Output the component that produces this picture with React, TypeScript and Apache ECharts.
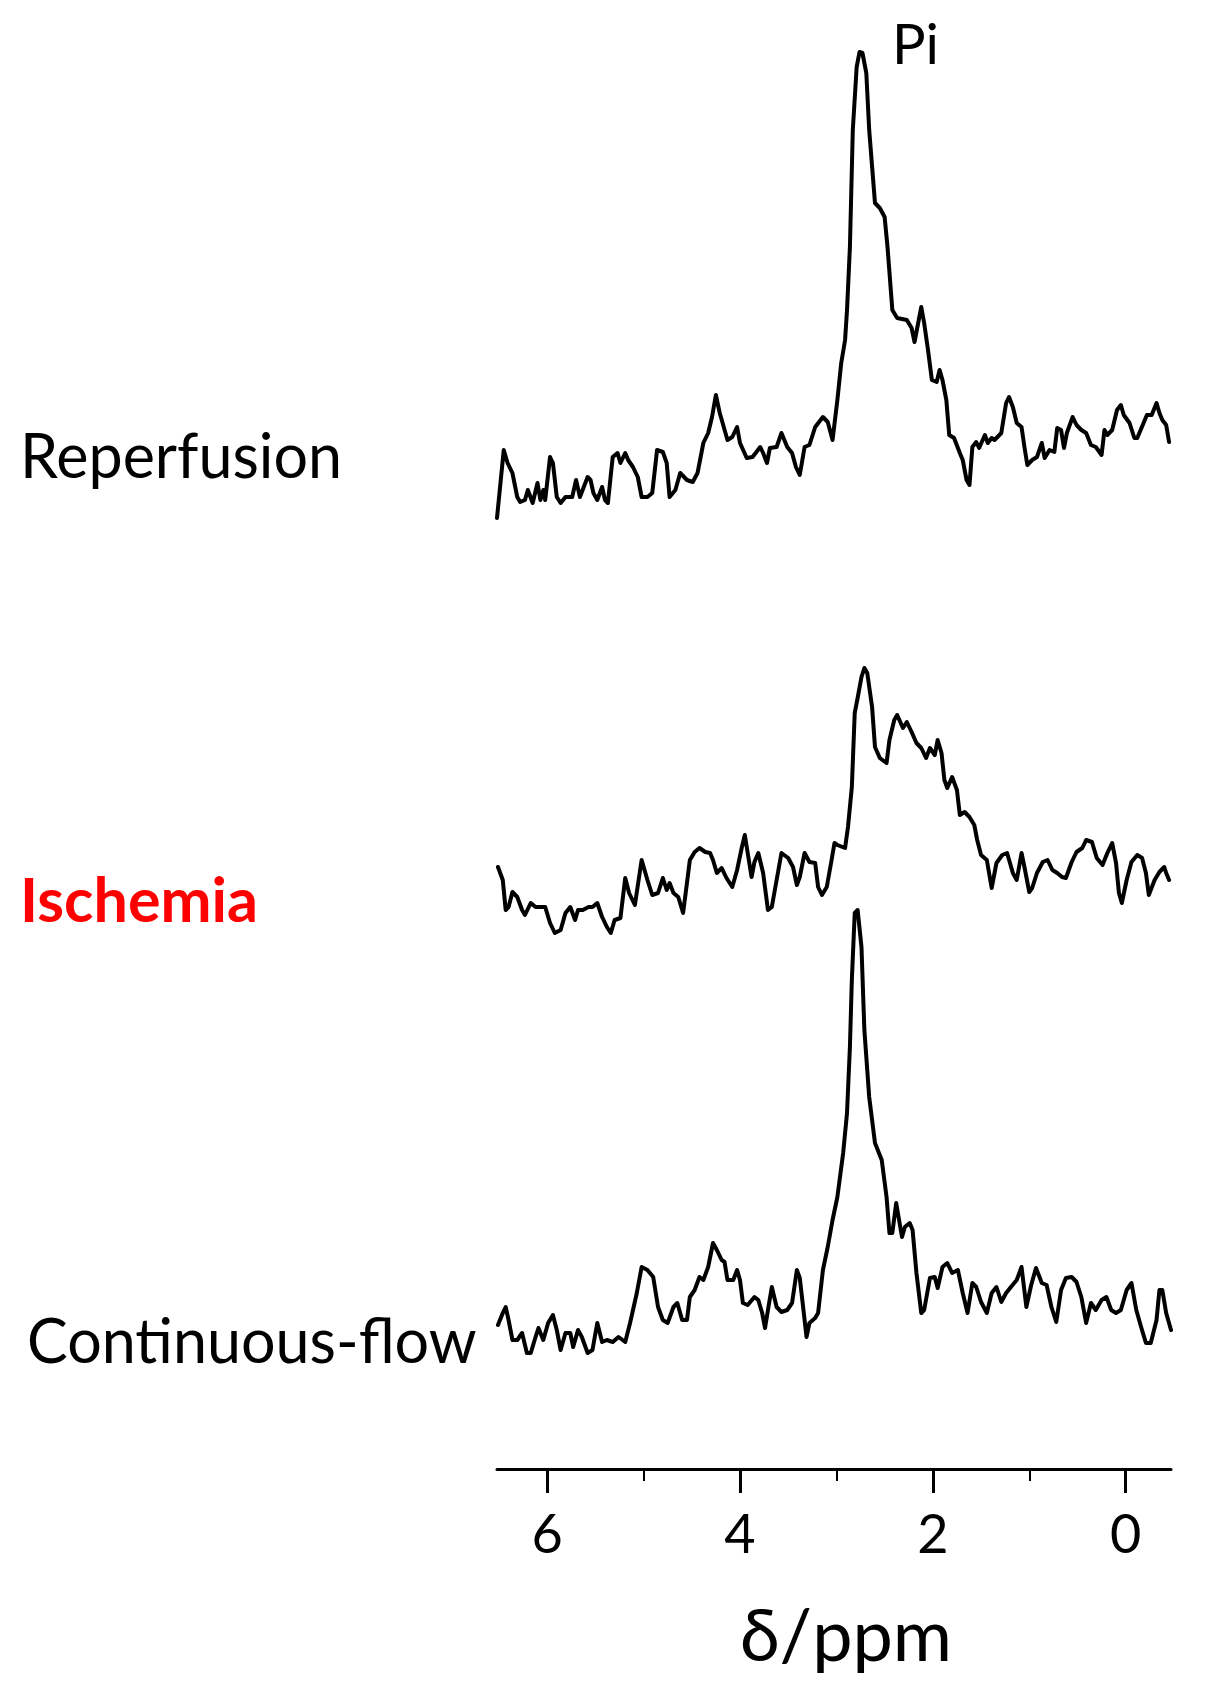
import React, { useEffect, useRef } from "react";
import * as echarts from "echarts";

// chemical shift (ppm) and intensity (a.u., relative to each trace's own baseline)
const reperfusion: [number, number][] = [
  [6.52,2],[6.45,70],[6.41,57],[6.36,47],[6.31,23],[6.28,18],[6.23,20],[6.20,30],[6.15,17],[6.10,37],[6.07,20],[6.04,30],[6.02,20],[5.97,63],[5.94,57],[5.90,23],[5.86,17],[5.81,23],[5.74,23],[5.70,40],[5.66,23],[5.58,43],[5.55,40],[5.52,27],[5.48,20],[5.43,33],[5.40,20],[5.37,17],[5.32,63],[5.27,67],[5.24,57],[5.19,67],[5.16,60],[5.11,53],[5.06,43],[5.02,23],[4.96,23],[4.91,27],[4.86,70],[4.80,68],[4.76,57],[4.73,23],[4.67,30],[4.62,47],[4.55,40],[4.49,38],[4.44,47],[4.38,77],[4.33,87],[4.29,103],[4.25,125],[4.21,107],[4.18,97],[4.13,80],[4.08,83],[4.03,93],[4.00,77],[3.93,62],[3.87,63],[3.79,73],[3.76,67],[3.72,57],[3.69,72],[3.62,73],[3.57,87],[3.51,73],[3.46,67],[3.42,53],[3.38,45],[3.33,73],[3.28,75],[3.22,93],[3.14,103],[3.09,98],[3.04,80],[2.99,120],[2.95,157],[2.91,180],[2.89,210],[2.86,273],[2.83,390],[2.79,453],[2.76,468],[2.73,467],[2.69,447],[2.66,390],[2.60,317],[2.55,312],[2.50,303],[2.47,273],[2.42,210],[2.37,202],[2.27,200],[2.22,192],[2.19,178],[2.12,213],[2.09,197],[2.05,170],[2.01,140],[1.96,138],[1.93,150],[1.90,140],[1.86,120],[1.83,85],[1.78,82],[1.72,67],[1.69,60],[1.65,40],[1.62,35],[1.59,73],[1.55,78],[1.52,72],[1.46,85],[1.43,77],[1.39,82],[1.36,80],[1.29,87],[1.24,117],[1.21,123],[1.17,113],[1.13,97],[1.08,93],[1.05,73],[1.02,55],[0.97,60],[0.92,63],[0.87,77],[0.84,62],[0.79,70],[0.74,68],[0.71,92],[0.67,90],[0.64,72],[0.61,87],[0.55,103],[0.51,95],[0.46,90],[0.41,87],[0.36,75],[0.31,73],[0.25,65],[0.22,90],[0.19,85],[0.14,90],[0.09,110],[0.05,115],[0.02,105],[-0.04,97],[-0.09,82],[-0.12,82],[-0.19,98],[-0.22,105],[-0.27,105],[-0.32,117],[-0.35,107],[-0.38,100],[-0.42,95],[-0.45,78]
];

const ischemia: [number, number][] = [
  [6.51,68],[6.46,55],[6.43,25],[6.40,28],[6.36,43],[6.31,38],[6.26,25],[6.23,20],[6.17,32],[6.12,28],[6.07,28],[6.02,28],[5.97,12],[5.92,2],[5.86,5],[5.81,22],[5.76,28],[5.71,15],[5.68,25],[5.63,25],[5.57,28],[5.53,28],[5.48,32],[5.43,18],[5.38,8],[5.34,2],[5.30,15],[5.24,17],[5.19,57],[5.15,42],[5.09,30],[5.02,75],[4.96,55],[4.91,40],[4.85,42],[4.80,57],[4.76,45],[4.73,52],[4.69,42],[4.64,38],[4.59,22],[4.55,52],[4.52,75],[4.47,83],[4.42,87],[4.36,83],[4.31,82],[4.28,75],[4.24,62],[4.19,67],[4.14,57],[4.08,48],[4.03,65],[3.98,88],[3.95,100],[3.92,82],[3.88,58],[3.85,73],[3.81,82],[3.76,62],[3.71,25],[3.67,28],[3.62,55],[3.57,82],[3.50,77],[3.45,68],[3.41,50],[3.38,58],[3.33,82],[3.28,73],[3.22,72],[3.19,48],[3.15,40],[3.10,48],[3.05,75],[3.02,92],[2.99,90],[2.91,87],[2.88,108],[2.84,148],[2.81,222],[2.78,237],[2.74,258],[2.71,267],[2.68,262],[2.63,228],[2.60,188],[2.55,177],[2.48,172],[2.45,195],[2.40,215],[2.37,220],[2.31,207],[2.27,213],[2.22,203],[2.17,192],[2.12,187],[2.07,177],[2.03,187],[1.98,180],[1.95,195],[1.91,182],[1.88,155],[1.85,147],[1.80,158],[1.75,145],[1.72,120],[1.67,123],[1.62,118],[1.57,110],[1.54,95],[1.50,80],[1.44,75],[1.39,47],[1.34,72],[1.28,80],[1.23,82],[1.17,62],[1.13,55],[1.08,82],[1.05,68],[1.00,43],[0.97,47],[0.92,62],[0.86,73],[0.81,75],[0.76,65],[0.71,62],[0.66,58],[0.62,57],[0.56,73],[0.51,83],[0.45,87],[0.41,95],[0.35,93],[0.30,77],[0.24,70],[0.19,82],[0.14,92],[0.10,72],[0.07,42],[0.04,32],[-0.01,55],[-0.06,73],[-0.12,80],[-0.17,77],[-0.21,62],[-0.24,40],[-0.30,55],[-0.35,63],[-0.40,68],[-0.42,62],[-0.45,55]
];

const continuousFlow: [number, number][] = [
  [6.51,30],[6.46,42],[6.43,48],[6.40,35],[6.36,15],[6.31,15],[6.26,22],[6.21,2],[6.17,2],[6.12,18],[6.09,27],[6.04,15],[5.99,32],[5.94,40],[5.90,25],[5.86,5],[5.81,22],[5.76,22],[5.73,8],[5.68,25],[5.64,18],[5.58,2],[5.53,5],[5.48,32],[5.43,13],[5.38,15],[5.32,13],[5.26,18],[5.19,13],[5.14,32],[5.07,62],[5.02,88],[4.96,85],[4.90,78],[4.85,48],[4.80,35],[4.75,32],[4.69,48],[4.65,52],[4.60,35],[4.55,35],[4.52,58],[4.47,65],[4.42,78],[4.38,75],[4.33,88],[4.28,112],[4.24,105],[4.19,95],[4.16,93],[4.13,75],[4.07,75],[4.03,85],[4.00,75],[3.97,52],[3.92,50],[3.85,58],[3.81,55],[3.77,42],[3.74,27],[3.71,45],[3.67,68],[3.62,48],[3.57,43],[3.51,45],[3.46,52],[3.41,85],[3.38,77],[3.35,52],[3.31,18],[3.28,32],[3.22,37],[3.19,42],[3.14,85],[3.09,108],[3.04,135],[2.99,158],[2.93,202],[2.89,242],[2.86,308],[2.84,375],[2.81,442],[2.78,445],[2.74,408],[2.71,325],[2.66,258],[2.60,212],[2.53,195],[2.48,158],[2.45,122],[2.42,122],[2.38,152],[2.32,118],[2.29,128],[2.24,132],[2.21,125],[2.17,82],[2.12,42],[2.09,45],[2.03,77],[1.98,78],[1.95,67],[1.90,88],[1.85,92],[1.80,82],[1.74,85],[1.69,62],[1.64,42],[1.59,72],[1.55,68],[1.50,53],[1.44,42],[1.39,62],[1.34,68],[1.29,53],[1.24,62],[1.19,68],[1.13,75],[1.08,88],[1.03,48],[0.98,70],[0.93,87],[0.87,72],[0.82,70],[0.77,48],[0.72,33],[0.67,65],[0.62,77],[0.56,78],[0.51,73],[0.46,58],[0.41,32],[0.36,52],[0.31,45],[0.25,55],[0.20,58],[0.15,45],[0.10,42],[0.05,45],[-0.01,65],[-0.06,72],[-0.11,45],[-0.16,28],[-0.21,12],[-0.26,12],[-0.32,35],[-0.35,65],[-0.38,65],[-0.42,42],[-0.47,25]
];

const traceNames = ["Reperfusion", "Ischemia", "Continuous-flow"];
const majorTicks = [0, 2, 4, 6];
const minorTicks = [1, 3, 5];
const ppmRange = [-0.47, 6.52];
const peakLabel = "Pi";
const axisTitle = "δ/ppm";

const FONT = "Lato, 'Open Sans', sans-serif";

export default function App() {
  const ref = useRef<HTMLDivElement>(null);

  useEffect(() => {
    if (!ref.current) return;
    const chart = echarts.init(ref.current, undefined, { renderer: "svg" });

    const gridTop = 20;
    const gridBottomPx = 1469;
    // baseline pixel of each trace (page coords)
    const baselines = [520, 935, 1355];
    const yAxes = baselines.map((b) => ({
      type: "value" as const,
      gridIndex: 0,
      show: false,
      min: b - gridBottomPx,
      max: b - gridTop,
      splitLine: { show: false },
    }));

    const traces = [reperfusion, ischemia, continuousFlow];

    const option: any = {
      animation: false,
      backgroundColor: "#ffffff",
      grid: [{ left: 497, right: 36, top: gridTop, bottom: 1706 - gridBottomPx, containLabel: false }],
      xAxis: [
        {
          type: "value",
          inverse: true,
          min: ppmRange[0],
          max: ppmRange[1],
          name: axisTitle,
          nameLocation: "middle",
          nameGap: 128,
          nameTextStyle: { fontFamily: FONT, fontSize: 72, color: "#000", padding: [0, 0, 0, 24] },
          axisLine: { show: true, onZero: false, lineStyle: { color: "#000", width: 3 } },
          axisTick: { show: true, customValues: majorTicks, length: 24, lineStyle: { color: "#000", width: 3 } },
          axisLabel: {
            show: true,
            customValues: majorTicks,
            margin: 36,
            fontFamily: FONT,
            fontSize: 54,
            color: "#000",
          },
          splitLine: { show: false },
        },
        {
          type: "value",
          inverse: true,
          min: ppmRange[0],
          max: ppmRange[1],
          position: "bottom",
          axisLine: { show: false, onZero: false },
          axisTick: { show: true, customValues: minorTicks, length: 12, lineStyle: { color: "#000", width: 2 } },
          axisLabel: { show: false },
          splitLine: { show: false },
        },
      ],
      yAxis: yAxes,
      series: traces.map((t, i) => ({
        name: traceNames[i],
        type: "line",
        xAxisIndex: 0,
        yAxisIndex: i,
        data: t,
        showSymbol: false,
        symbol: "none",
        clip: false,
        lineStyle: { color: "#000", width: 4, join: "round", cap: "round" },
      })),
      graphic: [
        {
          type: "text",
          left: 20,
          top: 424,
          style: { text: traceNames[0], font: `61px ${FONT}`, fill: "#000" },
        },
        {
          type: "text",
          left: 20,
          top: 868,
          style: { text: traceNames[1], font: `bold 61px ${FONT}`, fill: "#ff0000" },
        },
        {
          type: "text",
          left: 27,
          top: 1309,
          style: { text: traceNames[2], font: `61px ${FONT}`, fill: "#000" },
        },
        {
          type: "text",
          left: 892,
          top: 14,
          style: { text: peakLabel, font: `56px ${FONT}`, fill: "#000" },
        },
      ],
    };

    chart.setOption(option);
    return () => chart.dispose();
  }, []);

  return (
    <div
      ref={ref}
      style={{ position: "absolute", left: 0, top: 0, width: 1207, height: 1706, background: "#fff" }}
    />
  );
}
